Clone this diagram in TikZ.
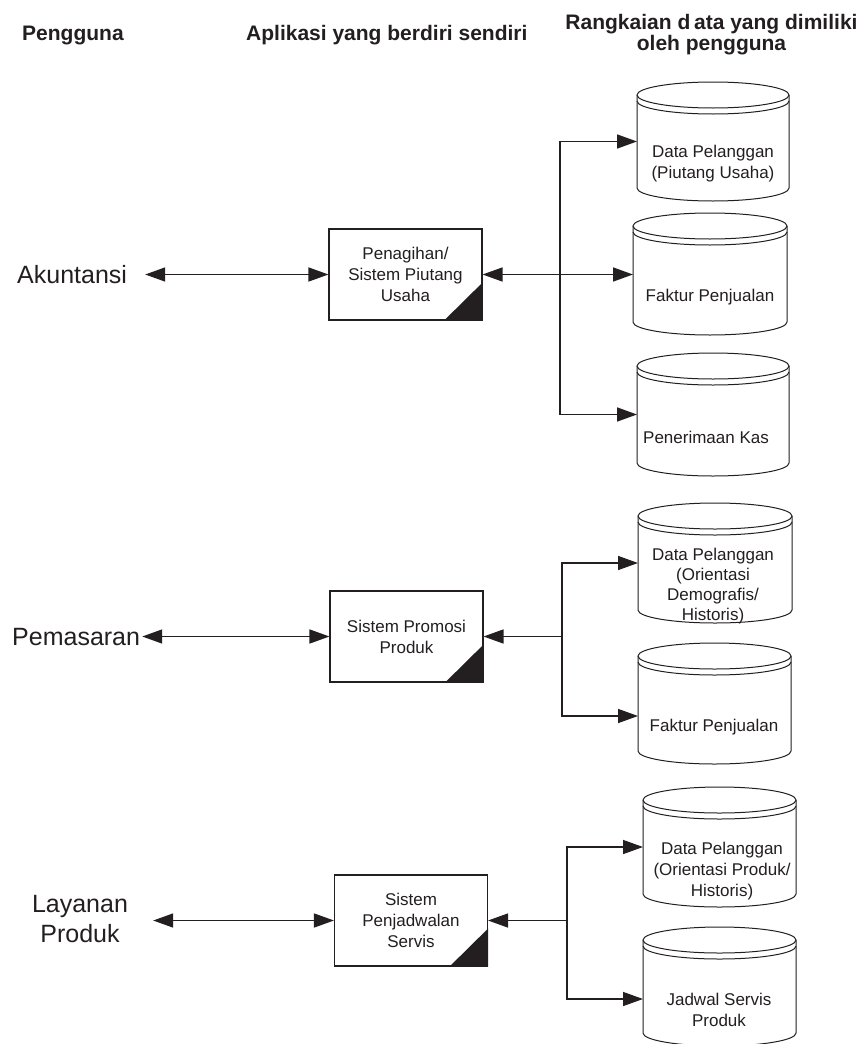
\documentclass[tikz,border=0pt]{standalone}
\usepackage{fontspec}
\setmainfont{Liberation Sans}
\usetikzlibrary{arrows.meta,calc}
\definecolor{ink}{HTML}{231F20}
\tikzset{
  conn/.style={draw=ink,line width=1.5pt},
  tip/.style={-{Triangle[length=20pt,width=14pt]}},
  dtip/.style={{Triangle[length=20pt,width=14pt]}-{Triangle[length=20pt,width=14pt]}},
  appbox/.style={draw=ink,line width=1.1pt,fill=white,minimum width=153pt,minimum height=91pt,
    inner sep=0pt,align=center,font=\fontsize{17}{21}\selectfont,text=ink},
  storebox/.style={inner sep=0pt,outer sep=0pt},
  storeline/.style={draw=ink,line width=1pt},
  storetext/.style={inner sep=0pt,align=center,font=\fontsize{17}{21}\selectfont,text=ink},
  head/.style={inner sep=0pt,font=\fontsize{21}{21.4}\selectfont\bfseries,text=ink},
  user/.style={inner sep=0pt,font=\fontsize{25}{30}\selectfont,text=ink},
}
% data store cylinder: name, left, right, top, bottom
\newcommand\datastore[5]{%
  \pgfmathsetmacro\dsW{#3-#2}%
  \pgfmathsetmacro\dsH{#5-#4}%
  \pgfmathsetmacro\dsR{(#3-#2)/2}%
  \node[storebox,minimum width=\dsW pt,minimum height=\dsH pt] (#1) at ({(#2+#3)/2},{(#4+#5)/2}) {};
  \filldraw[storeline,fill=white] (#2,#4+13) -- (#2,#5-13)
    arc[start angle=180,end angle=0,x radius=\dsR,y radius=13] -- (#3,#4+13)
    arc[start angle=0,end angle=-180,x radius=\dsR,y radius=13] -- cycle;
  \draw[storeline] (#2,#4+13) arc[start angle=180,end angle=0,x radius=\dsR,y radius=13];
  \draw[storeline] (#2,#4+19) arc[start angle=180,end angle=0,x radius=\dsR,y radius=13];
}
\begin{document}
\begin{tikzpicture}[x=1pt,y=-1pt]
\useasboundingbox (0,0) rectangle (864,1044);

% column headings
\node[head,anchor=base west] (hUser) at (22,40.7) {Pengguna};
\node[head,anchor=base west] (hApp) at (246,40.7) {Aplikasi yang berdiri sendiri};
\node[head,align=center] (hData) at (711.5,34.5) {Rangkaian d\kern0.18em ata yang dimiliki\\oleh pengguna};

% users
\node[user,anchor=base west] (acc) at (17,283.3) {Akuntansi};
\node[user,anchor=base west] (mkt) at (12,645) {Pemasaran};
\node[user,align=center] (svc) at (80,919) {Layanan\\Produk};

% stand-alone applications
\node[appbox] (app1) at (405.5,274.5) {Penagihan/\\Sistem Piutang\\Usaha};
\node[appbox] (app2) at (406.5,636.5) {Sistem Promosi\\Produk};
\node[appbox] (app3) at (411,920.5) {Sistem\\Penjadwalan\\Servis};
\foreach \b in {app1,app2,app3}
  \fill[ink] (\b.south east) -- ++(-38.5,0) -- ++(38.5,-38) -- cycle;

% data stores
\datastore{ds1}{637}{789}{82}{201}
\datastore{ds2}{633}{787}{213}{335}
\datastore{ds3}{637}{789}{353}{476}
\datastore{ds4}{638}{792}{503}{623}
\datastore{ds5}{638}{791}{643}{764}
\datastore{ds6}{643}{796}{787}{907}
\datastore{ds7}{643}{796}{927}{1046}

\node[storetext] (ds1t) at (713,163.5) {Data Pelanggan\\(Piutang Usaha)};
\node[storetext] (ds2t) at (710,297) {Faktur Penjualan};
\node[storetext] (ds3t) at (706,437) {Penerimaan Kas};
\node[storetext,font=\fontsize{17}{20}\selectfont] (ds4t) at (713,586)
  {Data Pelanggan\\(Orientasi\\Demografis/\\Historis)};
\node[storetext] (ds5t) at (714,727) {Faktur Penjualan};
\node[storetext] (ds6t) at (722,871) {Data Pelanggan\\(Orientasi Produk/\\Historis)};
\node[storetext] (ds7t) at (719,1009.5) {Jadwal Servis\\Produk};

% users to applications
\draw[conn,dtip,shorten <=18pt] (acc.east |- app1.west) -- (app1.west);
\draw[conn,dtip,shorten <=2pt] (mkt.east |- app2.west) -- (app2.west);
\draw[conn,dtip,shorten <=25pt] (svc.east |- app3.west) -- (app3.west);

% applications to data stores
\coordinate (j1) at (560,274.5);
\draw[conn,dtip] (app1.east) -- (app1.east -| ds2.west);
\draw[conn,tip] (j1) |- (ds1.west);
\draw[conn,tip] (j1) |- (ds3.west);

\coordinate (j2) at (562,636.5);
\draw[conn,tip] (j2) -- (app2.east);
\draw[conn,tip] (j2) |- (ds4.west);
\draw[conn,tip] (j2) |- ([yshift=-12.5pt]ds5.west);

\coordinate (j3) at (567,920.5);
\draw[conn,tip] (j3) -- (app3.east);
\draw[conn,tip] (j3) |- (ds6.west);
\draw[conn,tip] (j3) |- ([yshift=-12.5pt]ds7.west);
\end{tikzpicture}
\end{document}
